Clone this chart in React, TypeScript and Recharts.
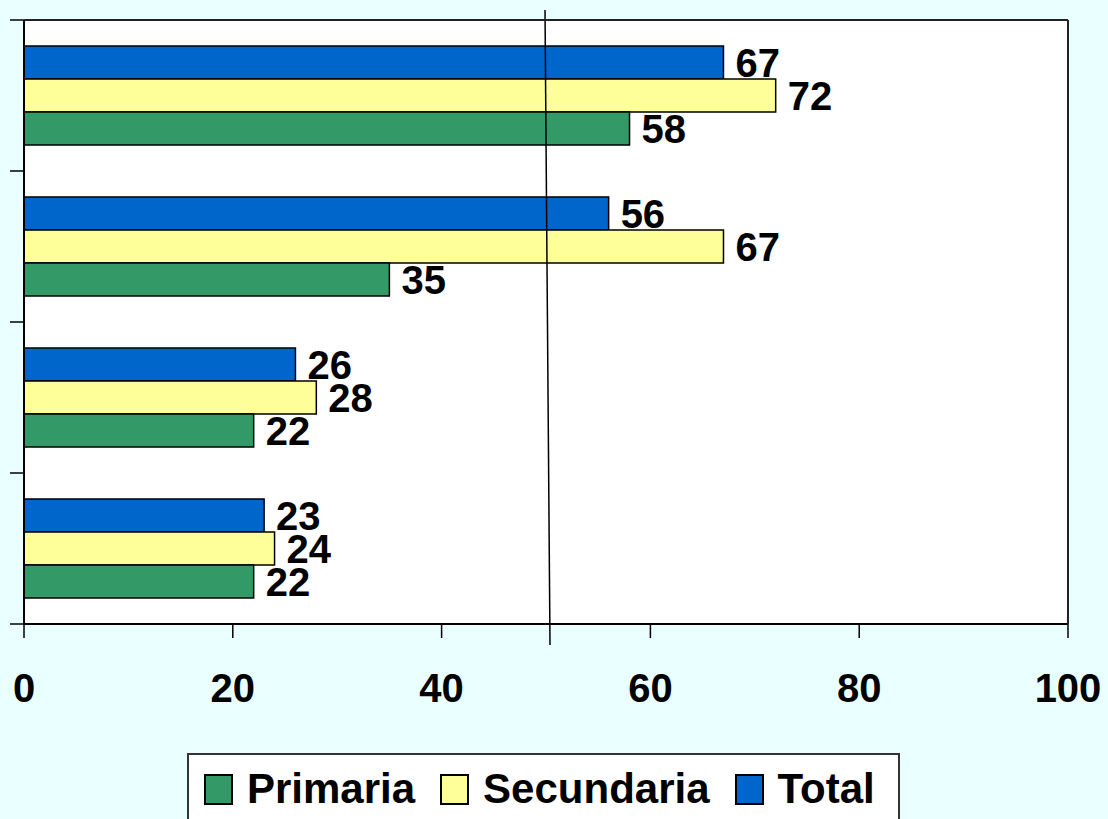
import React from 'react';
import * as Recharts from 'recharts';
import {
  BarChart,
  Bar,
  XAxis,
  YAxis,
  CartesianGrid,
  ReferenceLine,
  LabelList,
  Legend,
} from 'recharts';

const categories = ['Grupo 1', 'Grupo 2', 'Grupo 3', 'Grupo 4'];
const primaria = [58, 35, 22, 22];
const secundaria = [72, 67, 28, 24];
const total = [67, 56, 26, 23];
const xTicks = [0, 20, 40, 60, 80, 100];

const seriesInfo = [
  { key: 'primaria', name: 'Primaria', color: '#339966' },
  { key: 'secundaria', name: 'Secundaria', color: '#FFFF99' },
  { key: 'total', name: 'Total', color: '#0066CC' },
];

const chartData = categories.map((name, i) => ({
  name,
  primaria: primaria[i],
  secundaria: secundaria[i],
  total: total[i],
}));

const FONT = '"Liberation Sans", Arial, sans-serif';

const usePlotAreaSafe: () => any = (Recharts as any).usePlotArea ?? (() => undefined);

const renderLegend = () => (
  <div
    style={{
      width: 713,
      height: 72,
      border: '2px solid #333',
      background: '#fff',
      display: 'flex',
      alignItems: 'center',
      paddingLeft: 15,
      boxSizing: 'border-box',
      fontFamily: FONT,
      fontWeight: 'bold',
      fontSize: 42,
      color: '#000',
    }}
  >
    {seriesInfo.map((s, i) => (
      <div key={s.key} style={{ display: 'flex', alignItems: 'center', marginRight: i < 2 ? 25 : 0 }}>
        <span
          style={{
            display: 'inline-block',
            width: 25,
            height: 27,
            background: s.color,
            border: '2px solid #000',
            marginRight: 14,
          }}
        />
        <span style={{ lineHeight: '48px' }}>{s.name}</span>
      </div>
    ))}
  </div>
);

// tick marks sit on the category boundaries, not on the centres
const EdgeTick = (props: any) => {
  const { x, y, payload, index, visibleTicksCount } = props;
  const half = payload?.offset ?? 0;
  const last = index === (visibleTicksCount ?? categories.length) - 1;
  return (
    <g>
      <line x1={x - 14} y1={y - half} x2={x} y2={y - half} stroke="#000" strokeWidth={1.5} />
      {last && <line x1={x - 14} y1={y + half} x2={x} y2={y + half} stroke="#000" strokeWidth={1.5} />}
    </g>
  );
};

// slightly slanted line at 50, like in the original slide
const FiftyLine = (props: any) => {
  const area = usePlotAreaSafe();
  const { x1, x2 } = props;
  const top = area ? area.y : props.y1;
  const bottom = area ? area.y + area.height : props.y2;
  return <line x1={x1 - 1} y1={top - 10} x2={x2 + 4} y2={bottom + 21} stroke="#000" strokeWidth={1.5} />;
};

export default function App() {
  const labelStyle = { fontSize: 40, fontWeight: 'bold', fill: '#000', fontFamily: FONT };
  return (
    <div
      style={{
        position: 'absolute',
        left: 0,
        top: 0,
        width: 1108,
        height: 819,
        overflow: 'hidden',
        background: '#EAFFFF',
      }}
    >
      <BarChart
        width={1108}
        height={819}
        layout="vertical"
        data={chartData}
        margin={{ top: 19, right: 39, left: 23, bottom: 135 }}
        barSize={33}
        barGap={0}
      >
        <CartesianGrid horizontal={false} vertical={false} fill="#fff" />
        <XAxis
          type="number"
          domain={[0, 100]}
          ticks={xTicks}
          height={60}
          tickSize={14}
          tickMargin={36}
          axisLine={{ stroke: '#000', strokeWidth: 2 }}
          tickLine={{ stroke: '#000', strokeWidth: 1.5 }}
          tick={{ fontSize: 40, fontWeight: 'bold', fill: '#000', fontFamily: FONT }}
        />
        <XAxis
          xAxisId="top"
          orientation="top"
          type="number"
          domain={[0, 100]}
          ticks={xTicks}
          height={1}
          tick={false}
          tickLine={false}
          axisLine={{ stroke: '#222', strokeWidth: 2 }}
        />
        <YAxis
          type="category"
          dataKey="name"
          width={1}
          tickSize={0}
          tickMargin={0}
          tickLine={false}
          tick={<EdgeTick />}
          axisLine={{ stroke: '#000', strokeWidth: 2 }}
        />
        <YAxis
          yAxisId="right"
          orientation="right"
          type="category"
          dataKey="name"
          width={1}
          tick={false}
          tickLine={false}
          axisLine={{ stroke: '#222', strokeWidth: 2 }}
        />
        <Bar dataKey="total" name="Total" fill="#0066CC" stroke="#000" strokeWidth={1.5} isAnimationActive={false}>
          <LabelList dataKey="total" position="right" offset={12} style={labelStyle} />
        </Bar>
        <Bar dataKey="secundaria" name="Secundaria" fill="#FFFF99" stroke="#000" strokeWidth={1.5} isAnimationActive={false}>
          <LabelList dataKey="secundaria" position="right" offset={12} style={labelStyle} />
        </Bar>
        <Bar dataKey="primaria" name="Primaria" fill="#339966" stroke="#000" strokeWidth={1.5} isAnimationActive={false}>
          <LabelList dataKey="primaria" position="right" offset={12} style={labelStyle} />
        </Bar>
        <ReferenceLine x={50} stroke="#000" shape={(p: any) => <FiftyLine {...p} />} ifOverflow="visible" />
        <Legend
          layout="horizontal"
          verticalAlign="middle"
          align="center"
          content={renderLegend}
          wrapperStyle={{ position: 'absolute', left: 187, top: 753, width: 713 }}
        />
      </BarChart>
    </div>
  );
}
